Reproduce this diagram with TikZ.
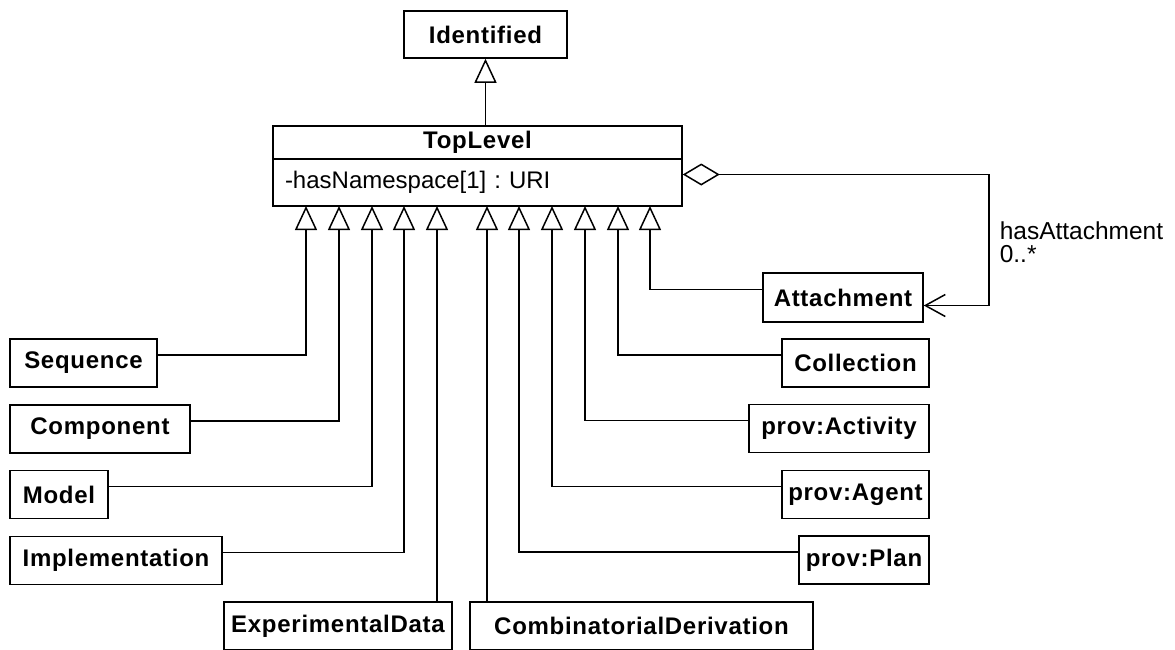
\documentclass[tikz,border=0pt]{standalone}
\usepackage{fontspec}
\setmainfont{Liberation Sans}[BoldFeatures={LetterSpace=3}]
\usetikzlibrary{arrows.meta}
\frenchspacing

\begin{document}
\begin{tikzpicture}[x=1pt,y=-1pt,line width=1.5pt,
    cls/.style={draw,inner sep=0pt,minimum height=48pt,font=\fontsize{24}{28}\selectfont\bfseries},
    isa/.style={-{Triangle[open,length=24pt,width=22pt]}},
    agg/.style={{Diamond[open,length=37pt,width=22pt]}-{Straight Barb[length=20pt,width=22pt]}}]
  \useasboundingbox (0,0) rectangle (1175,649);
  \clip (0,0) rectangle (1175,649);
  \node[cls,minimum width=163pt,minimum height=47pt] (identified) at (485.5,34.5) {Identified};
  \node[cls,minimum width=409pt,minimum height=33pt] (toplevel) at (477.5,142.5) {TopLevel};
  \node[cls,font=\fontsize{24}{28}\selectfont,text width=385pt,inner xsep=12pt,align=left,minimum height=47pt] (attr) at (477.5,182.5) {-hasNamespace[1] : URI};
  \node[cls,minimum width=147pt] (seq) at (83.5,363) {Sequence};
  \node[cls,minimum width=180pt] (comp) at (100,429) {Component};
  \node[cls,minimum width=98pt] (model) at (59,494.5) {Model};
  \node[cls,minimum width=212pt] (impl) at (116,560.5) {Implementation};
  \node[cls,minimum width=228pt] (expdata) at (338,626) {ExperimentalData};
  \node[cls,minimum width=343pt] (combder) at (641.5,626) {CombinatorialDerivation};
  \node[cls,minimum width=160pt,minimum height=49pt] (attach) at (843,297.5) {Attachment};
  \node[cls,minimum width=147pt] (coll) at (855.5,363) {Collection};
  \node[cls,minimum width=180pt] (act) at (839,428.5) {prov:Activity};
  \node[cls,minimum width=147pt] (agent) at (855.5,494.5) {prov:Agent};
  \node[cls,minimum width=130pt] (plan) at (864,560) {prov:Plan};
  \node[anchor=west,align=left,inner sep=0pt,font=\fontsize{24.5}{23}\selectfont] (hasatt) at (999,242) {hasAttachment\\0..*};
  \foreach \n/\x in {1/306,2/339,3/372,4/404,5/437,6/487,7/519,8/552,9/585,10/618,11/650}
    \coordinate (t\n) at (\x,206);
  \draw[isa] (toplevel.north -| identified.south) -- (identified.south);
  \draw[isa] ([yshift=8pt]seq.east) -| (t1);
  \draw[isa] ([yshift=8pt]comp.east) -| (t2);
  \draw[isa] ([yshift=8pt]model.east) -| (t3);
  \draw[isa] ([yshift=8pt]impl.east) -| (t4);
  \draw[isa] (expdata.north -| t5) -- (t5);
  \draw[isa] (combder.north -| t6) -- (t6);
  \draw[isa] ([yshift=8pt]plan.west) -| (t7);
  \draw[isa] ([yshift=8pt]agent.west) -| (t8);
  \draw[isa] ([yshift=8pt]act.west) -| (t9);
  \draw[isa] ([yshift=8pt]coll.west) -| (t10);
  \draw[isa] ([yshift=8pt]attach.west) -| (t11);
  \draw[agg] ([yshift=8pt]attr.east) -- ++(306,0) |- ([yshift=-8pt]attach.east);
\end{tikzpicture}
\end{document}
